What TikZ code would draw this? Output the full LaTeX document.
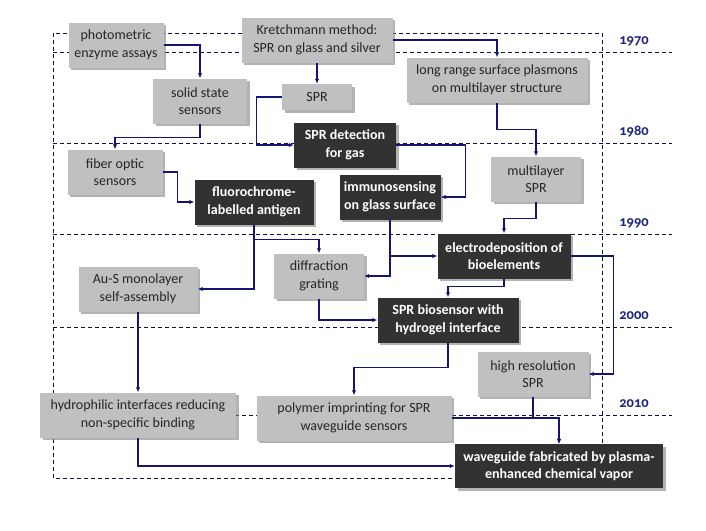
\documentclass[tikz,border=0pt]{standalone}
\usepackage{fontspec}
\setmainfont{Carlito}
\usetikzlibrary{arrows.meta, positioning, shadows}
\definecolor{boxgray}{RGB}{192,192,192}
\definecolor{boxdark}{RGB}{50,50,50}
\definecolor{linknavy}{RGB}{20,20,115}
\definecolor{framenavy}{RGB}{15,15,70}
\definecolor{yearnavy}{RGB}{30,35,125}

\begin{document}
\begin{tikzpicture}[
    x=1pt, y=-1pt, % 像素坐标(y向下)
    frame/.style={framenavy, line width=0.8pt, dash pattern=on 4pt off 3pt}, % 虚线框/年代线
    link/.style={linknavy, line width=1.1pt, -{Latex[length=5pt, width=4.5pt]}}, % 连线
    lbox/.style={fill=boxgray, text=black!85, align=center, inner sep=0pt,
        minimum height=45pt, font=\fontsize{14}{17.5}\selectfont,
        drop shadow={shadow xshift=2.5pt, shadow yshift=-2.5pt, opacity=.6}}, % 浅灰框
    dbox/.style={lbox, fill=boxdark, text=white, font=\fontsize{14}{17.5}\selectfont\bfseries}, % 深色框
    year/.style={yearnavy, font=\fontsize{14.5}{17}\selectfont\bfseries\addfontfeatures{Numbers=OldStyle}} % 年份
]
    \useasboundingbox (0,0) rectangle (706,530);

    % 1. 虚线外框与年代线
    \draw[frame] (53,33) rectangle (602,478);
    \foreach \y/\yr in {52/1970, 143/1980, 234/1990, 327/2000, 415/2010} {
        \draw[frame] (53,\y) -- (672,\y);
        \node[year] (y\yr) at (634,\y-11) {\yr};
    }

    % 2. 方框
    \node[lbox, minimum width=95pt] (photo) at (116,45) {photometric\\enzyme assays};
    \node[lbox, minimum width=151pt] (kret) at (317,40) {Kretchmann method:\\SPR on glass and silver};
    \node[lbox, minimum width=94pt] (solid) at (200,101) {solid state\\sensors};
    \node[lbox, minimum width=70pt, minimum height=26pt] (spr) at (317,97) {SPR};
    \node[lbox, minimum width=181pt] (lrsp) at (497,80) {long range surface plasmons\\on multilayer structure};
    \node[dbox, minimum width=102pt] (gas) at (345,145) {SPR detection\\for gas};
    \node[lbox, minimum width=95pt] (fiber) at (115,172) {fiber optic\\sensors};
    \node[lbox, minimum width=90pt] (mlspr) at (536,179) {multilayer\\SPR};
    \node[dbox, minimum width=119pt] (fluoro) at (254,202) {fluorochrome-\\labelled antigen};
    \node[dbox, minimum width=101pt] (immuno) at (390,197) {immunosensing\\on glass surface};
    \node[dbox, minimum width=133pt] (electro) at (504,256) {electrodeposition of\\bioelements};
    \node[lbox, minimum width=90pt] (diff) at (319,276) {diffraction\\grating};
    \node[lbox, minimum width=119pt] (aus) at (138,289) {Au-S monolayer\\self-assembly};
    \node[dbox, minimum width=141pt] (hydro) at (448,320) {SPR biosensor with\\hydrogel interface};
    \node[lbox, minimum width=111pt] (hires) at (533,374) {high resolution\\SPR};
    \node[lbox, minimum width=195pt] (poly) at (354,418) {polymer imprinting for SPR\\waveguide sensors};
    \node[lbox, minimum width=196pt] (philic) at (138,415) {hydrophilic interfaces reducing\\non-specific binding};
    \node[dbox, minimum width=208pt, minimum height=44pt] (wave) at (559,466) {waveguide fabricated by plasma-\\enhanced chemical vapor};

    % 3. 连线
    \draw[link] (photo.east) -| (solid.north);
    \draw[link] (kret.south) -- (spr.north);
    \draw[link] (kret.east) -| (lrsp.north);
    \draw[link] (solid.south) -- ++(0,14) -| (fiber.north);
    \draw[link] (spr.west) -- ++(-25,0) |- (gas.west);
    \draw[link] (fiber.east) -- ++(15,0) |- (fluoro.west);
    \draw[link] (gas.east) -- ++(69,0) |- (immuno.east);
    \draw[link] (lrsp.south) -- ++(0,27) -| (mlspr.north);
    \draw[link] (mlspr.south) -- ++(0,17) -| (electro.north);
    \draw[link] (fluoro.south) -- ++(0,15) -| (diff.north);
    \draw[link] (fluoro.south) |- (aus.east);
    \draw[link] (immuno.south) |- (electro.west);
    \draw[link] (immuno.south) |- (diff.east);
    \draw[link] (electro.south) -- ++(0,8) -| (hydro.north);
    \draw[link] (electro.east) -- ++(43,0) |- (hires.east);
    \draw[link] (diff.south) |- (hydro.west);
    \draw[link] (hydro.south) -- ++(0,25) -| (poly.north);
    \draw[link] (aus.south) -- (philic.north);
    \draw[link] (philic.south) |- (wave.west);
    \draw[link] (poly.east) -| (wave.north);
    \draw[link] (hires.south) |- (poly.east -| wave.north) -- (wave.north);
\end{tikzpicture}
\end{document}
